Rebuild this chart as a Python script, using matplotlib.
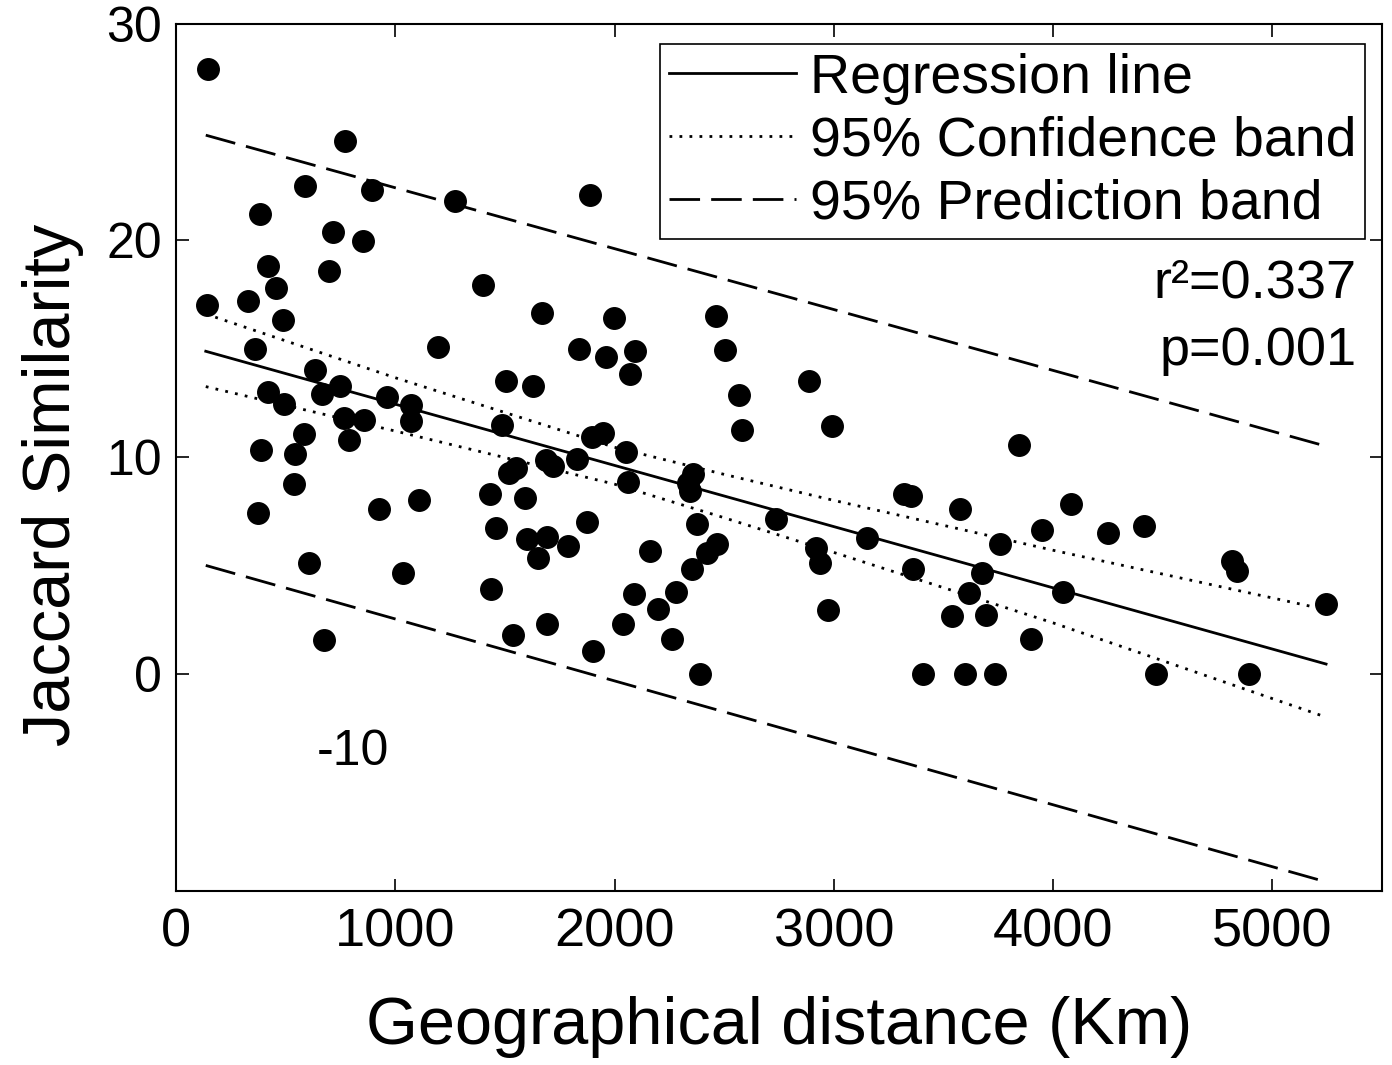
import matplotlib
matplotlib.use('Agg')
import matplotlib.pyplot as plt

plt.rcParams['font.family'] = ['Liberation Sans', 'DejaVu Sans']

# distance (km) and Jaccard similarity for each pair of sites
dist = [148, 769, 590, 895, 1272, 1890, 384, 715, 853, 419,
        699, 457, 1400, 140, 330, 486, 1669, 361, 1195, 1840,
        632, 422, 491, 666, 747, 963, 1073, 1070, 1504, 1629,
        1486, 765, 856, 791, 582, 387, 544, 539, 372, 925,
        1108, 1830, 1550, 1519, 1687, 1719, 1432, 1591, 1461, 1600,
        1691, 1790, 1653, 1876, 608, 1036, 1438, 673, 1535, 1690,
        1903, 2071, 1961, 2094, 2886, 2569, 2581, 2990, 1896, 1949,
        2053, 2063, 2360, 2337, 2345, 2737, 3153, 3320, 3350, 3576,
        2162, 2376, 2467, 2421, 2353, 2917, 2936, 3362, 2091, 2281,
        2200, 2041, 2261, 2391, 2975, 3409, 3599, 3538, 3616, 3675,
        3694, 3843, 4082, 3948, 4250, 4413, 3758, 4044, 3899, 3736,
        4471, 4895, 4818, 4837, 5245, 1999, 2463, 2505]
jacc = [27.9, 24.6, 22.5, 22.3, 21.8, 22.1, 21.2, 20.4, 19.95, 18.8,
        18.6, 17.8, 17.96, 17.0, 17.2, 16.3, 16.65, 15.0, 15.07, 15.0,
        14.0, 13.0, 12.46, 12.92, 13.3, 12.76, 12.38, 11.66, 13.53, 13.3,
        11.46, 11.78, 11.7, 10.77, 11.08, 10.32, 10.12, 8.74, 7.41, 7.59,
        8.0, 9.9, 9.5, 9.28, 9.86, 9.58, 8.31, 8.12, 6.74, 6.2,
        6.31, 5.9, 5.36, 7.0, 5.13, 4.67, 3.9, 1.55, 1.78, 2.32,
        1.06, 13.81, 14.6, 14.9, 13.53, 12.86, 11.24, 11.43, 10.92, 11.12,
        10.23, 8.86, 9.2, 8.82, 8.43, 7.13, 6.25, 8.3, 8.22, 7.59,
        5.67, 6.9, 5.97, 5.59, 4.82, 5.82, 5.1, 4.82, 3.67, 3.78,
        2.98, 2.29, 1.6, 0.0, 2.94, 0.0, 0.0, 2.67, 3.73, 4.67,
        2.72, 10.54, 7.82, 6.65, 6.51, 6.82, 6.0, 3.79, 1.6, 0.0,
        0.0, 0.0, 5.2, 4.75, 3.24, 16.42, 16.5, 14.96]

# regression line and bands
fit_x = [136, 5245]
fit_y = [14.88, 0.45]
band_x = [136, 1000, 2000, 2500, 3000, 4000, 5245]
conf_up = [16.6, 13.66, 10.45, 9.2, 8.0, 5.7, 2.96]
conf_lo = [13.25, 11.2, 8.75, 7.2, 5.6, 2.35, -2.0]
pred_x = [136, 5245]
pred_up = [24.85, 10.5]
pred_lo = [5.0, -9.6]

fig = plt.figure(figsize=(13.92, 10.65), dpi=100)
ax = fig.add_axes([0.1264, 0.1638, 0.8664, 0.8141])

ax.plot(dist, jacc, 'o', color='black', ms=15.5, zorder=3)

ax.plot(fit_x, fit_y, color='black', lw=2.0, label='Regression line')
ax.plot(band_x, conf_up, color='black', lw=2.0, ls=(0, (1, 2.6)), label='95% Confidence band')
ax.plot(band_x, conf_lo, color='black', lw=2.0, ls=(0, (1, 2.6)))
ax.plot(pred_x, pred_up, color='black', lw=2.0, ls=(0, (11, 4)), label='95% Prediction band')
ax.plot(pred_x, pred_lo, color='black', lw=2.0, ls=(0, (11, 4)))

ax.set_xlim(0, 5500)
ax.set_ylim(-10, 30)
ax.set_xticks([0, 1000, 2000, 3000, 4000, 5000])
ax.set_yticks([-10, 0, 10, 20, 30])
ax.set_yticklabels(['', '0', '10', '20', '30'])
ax.tick_params(direction='in', length=9, width=1.2, top=True, right=True)
ax.tick_params(axis='x', labelsize=39, pad=12)
ax.tick_params(axis='y', labelsize=36, pad=10)
for s in ax.spines.values():
    s.set_linewidth(1.5)

ax.set_xlabel('Geographical distance (Km)', fontsize=48, labelpad=28)
ax.set_ylabel('Jaccard Similarity', fontsize=48)
ax.yaxis.set_label_coords(-0.076, 0.468)

# stray tick label that sits inside the plot
ax.text(805, -3.6, '-10', fontsize=36, ha='center', va='center')
ax.text(5385, 18.0, 'r²=0.337', fontsize=39, ha='right', va='center')
ax.text(5385, 14.9, 'p=0.001', fontsize=39, ha='right', va='center')

leg = ax.legend(loc='upper right', bbox_to_anchor=(0.986, 0.976), borderaxespad=0,
                fontsize=40, handlelength=2.3, handletextpad=0.25, labelspacing=0.2,
                borderpad=0.15, fancybox=False, framealpha=1)
leg.get_frame().set_edgecolor('black')
leg.get_frame().set_linewidth(1.2)

fig.savefig('out.png', dpi=100)
